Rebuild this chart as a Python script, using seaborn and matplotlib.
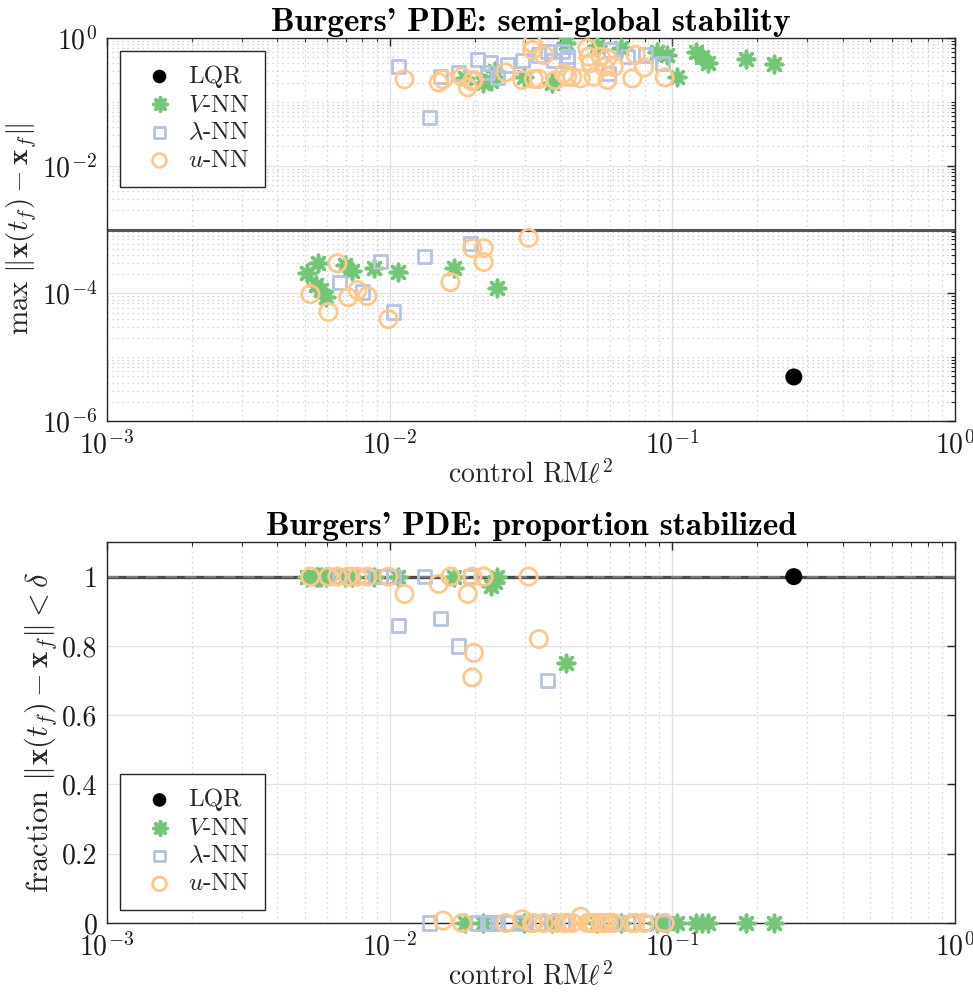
import numpy as np
import pandas as pd
import matplotlib
matplotlib.use("Agg")
import matplotlib.pyplot as plt
import seaborn as sns
from matplotlib.ticker import FixedLocator, NullFormatter, LogFormatterMathtext

# ---------------- data ----------------
lqr_rms = [0.269]
lqr_max = [4.9e-6]
lqr_frac = [1.0]

vnn_rms = [0.0051, 0.00558, 0.0055, 0.00573, 0.00597, 0.00697, 0.00736, 0.00877, 0.01067, 0.01695, 0.0239,
           0.02147, 0.0228, 0.0236, 0.02976, 0.0376, 0.04192, 0.054, 0.0185, 0.06566, 0.08857, 0.09608,
           0.1042, 0.121, 0.1278, 0.1332, 0.182, 0.2293]
vnn_max = [2.1e-4, 3.0e-4, 1.35e-4, 1.12e-4, 8.7e-5, 2.76e-4, 2.2e-4, 2.46e-4, 2.19e-4, 2.46e-4, 1.2e-4,
           0.197, 0.21, 0.30, 0.247, 0.197, 0.826, 0.75, 0.24, 0.69, 0.61, 0.542,
           0.247, 0.61, 0.509, 0.401, 0.464, 0.391]
vnn_frac = [1, 1, 1, 1, 1, 1, 1, 1, 1, 1, 1,
            0, 0.972, 0.986, 0, 0, 0.75, 0, 0, 0, 0, 0,
            0, 0, 0, 0, 0, 0]

lnn_rms = [0.00664, 0.0080, 0.00927, 0.0103, 0.0133, 0.0193,
           0.01076, 0.01386, 0.01512, 0.01751, 0.0204, 0.02274, 0.02606, 0.02944, 0.03361, 0.0361,
           0.0408, 0.0425, 0.0425, 0.06052, 0.06934, 0.0805, 0.09225, 0.05954, 0.0222, 0.0241, 0.0379]
lnn_max = [1.5e-4, 1.05e-4, 3.2e-4, 5.1e-5, 3.8e-4, 6.1e-4,
           0.355, 0.0571, 0.247, 0.283, 0.464, 0.406, 0.377, 0.441, 0.542, 0.61,
           0.61, 0.452, 0.509, 0.648, 0.509, 0.542, 0.401, 0.28, 0.29, 0.24, 0.45]
lnn_frac = [1, 1, 1, 1, 1, 1,
            0.859, 0, 0.88, 0.80, 0, 0, 0, 0, 0, 0.70,
            0, 0, 0, 0, 0, 0, 0, 0, 0, 0, 0]

unn_rms = [0.00524, 0.00607, 0.00653, 0.00714, 0.00769, 0.00834, 0.0099, 0.0164, 0.0196, 0.0215, 0.0215, 0.031,
           0.01128, 0.01491, 0.01546, 0.01805, 0.01889, 0.01984, 0.0196, 0.0257, 0.02944, 0.03195, 0.03195,
           0.03236, 0.03371, 0.03512, 0.03864, 0.04133, 0.04428, 0.0425, 0.04738, 0.05004, 0.05057, 0.05578,
           0.05891, 0.0514, 0.05731, 0.06202, 0.05267, 0.05891, 0.07419, 0.0794, 0.07222, 0.094]
unn_max = [9.7e-5, 5.1e-5, 2.96e-4, 8.7e-5, 1.12e-4, 9.1e-5, 3.95e-5, 1.5e-4, 5.1e-4, 5.1e-4, 3.1e-4, 7.4e-4,
           0.226, 0.202, 0.225, 0.247, 0.169, 0.22, 0.21, 0.29, 0.22, 0.826, 0.648,
           0.228, 0.228, 0.542, 0.22, 0.28, 0.247, 0.247, 0.233, 0.69, 0.509, 0.509,
           0.481, 0.406, 0.355, 0.355, 0.247, 0.22, 0.542, 0.347, 0.233, 0.242]
unn_frac = [1, 1, 1, 1, 1, 1, 1, 1, 1, 1, 1, 1,
            0.95, 0.979, 0.007, 0, 0.95, 0.78, 0.709, 0, 0.011, 0, 0,
            0, 0.82, 0, 0, 0, 0, 0, 0.018, 0, 0, 0,
            0, 0, 0, 0, 0, 0, 0, 0, 0, 0]

series_labels = ["LQR", r"$V$-NN", r"$\lambda$-NN", r"$u$-NN"]
x_ticks = [1e-3, 1e-2, 1e-1, 1e0]
y_ticks_top = [1e-6, 1e-4, 1e-2, 1e0]
y_ticks_bot = [0, 0.2, 0.4, 0.6, 0.8, 1.0]
y_ticklabels_bot = ["0", "0.2", "0.4", "0.6", "0.8", "1"]
titles = ["Burgers' PDE: semi-global stability", "Burgers' PDE: proportion stabilized"]
stable_tol = 1e-3

# ---------------- style ----------------
sns.set_theme(style="white")
plt.rcParams["font.family"] = ["cmr10", "DejaVu Serif"]
plt.rcParams["mathtext.fontset"] = "cm"
plt.rcParams["axes.formatter.use_mathtext"] = True

GREEN = "#74c677"
BLUE = "#b5c2e1"
ORANGE = "#fec78c"
DARK = "#262626"

frames = {
    "lqr": pd.DataFrame({"rms": lqr_rms, "maxdev": lqr_max, "frac": lqr_frac}),
    "vnn": pd.DataFrame({"rms": vnn_rms, "maxdev": vnn_max, "frac": vnn_frac}),
    "lnn": pd.DataFrame({"rms": lnn_rms, "maxdev": lnn_max, "frac": lnn_frac}),
    "unn": pd.DataFrame({"rms": unn_rms, "maxdev": unn_max, "frac": unn_frac}),
}
styles = {
    "lqr": dict(marker="o", s=150, color="black", edgecolor="none", linewidth=0),
    "vnn": dict(marker=(8, 2, 0), s=140, color=GREEN, linewidth=2.6),
    "lnn": dict(marker="s", s=90, facecolor="none", edgecolor=BLUE, linewidth=2.0),
    "unn": dict(marker="o", s=155, facecolor="none", edgecolor=ORANGE, linewidth=2.0),
}
keys = ["lqr", "vnn", "lnn", "unn"]

fig = plt.figure(figsize=(9.73, 9.96), dpi=100)
ax1 = fig.add_axes([0.110, 0.5773, 0.8715, 0.3845])
ax2 = fig.add_axes([0.110, 0.0733, 0.8715, 0.3825])

FS = 20


def minor_log(lo, hi, majors):
    vals = []
    for k in range(lo, hi):
        for m in range(1, 10):
            v = m * 10.0 ** k
            if not any(np.isclose(v, M) for M in majors):
                vals.append(v)
    return vals


def style_axes(ax):
    ax.set_axisbelow(True)
    for sp in ax.spines.values():
        sp.set_visible(True)
        sp.set_color(DARK)
        sp.set_linewidth(1.0)
    ax.set_xscale("log")
    ax.set_xlim(1e-3, 1e0)
    ax.xaxis.set_major_locator(FixedLocator(x_ticks))
    ax.xaxis.set_minor_locator(FixedLocator(minor_log(-3, 0, x_ticks)))
    ax.xaxis.set_major_formatter(LogFormatterMathtext())
    ax.xaxis.set_minor_formatter(NullFormatter())
    ax.tick_params(which="both", direction="in", top=True, right=True, colors=DARK,
                   labelsize=FS, labelcolor="#1a1a1a")
    ax.tick_params(which="major", length=6, width=1.0, pad=7)
    ax.tick_params(which="minor", length=3, width=0.8)
    ax.grid(True, which="major", color="#e2e2e2", linewidth=1.0, linestyle="-")
    ax.set_xlabel(r"control RM$\ell^2$", fontsize=FS, labelpad=0)


# ---------- top panel ----------
style_axes(ax1)
ax1.set_yscale("log")
ax1.set_ylim(1e-6, 1e0)
ax1.yaxis.set_major_locator(FixedLocator(y_ticks_top))
ax1.yaxis.set_minor_locator(FixedLocator(minor_log(-6, 0, y_ticks_top)))
ax1.yaxis.set_major_formatter(LogFormatterMathtext())
ax1.yaxis.set_minor_formatter(NullFormatter())
ax1.grid(True, which="minor", color="#c8c8c8", linewidth=0.9, linestyle=(0, (1, 3)))
ax1.axhline(stable_tol, color="#555555", linewidth=2.2, zorder=2)
for k, lab in zip(keys, series_labels):
    sns.scatterplot(data=frames[k], x="rms", y="maxdev", ax=ax1, label=lab, zorder=3, **styles[k])
ax1.set_ylabel(r"$\max\ \|\mathbf{x}(t_f)-\mathbf{x}_f\|$", fontsize=21, labelpad=2)
ax1.set_title(titles[0], fontfamily="cmb10", fontsize=24, pad=5, color="black")

# ---------- bottom panel ----------
style_axes(ax2)
ax2.set_ylim(0, 1.1)
ax2.yaxis.set_major_locator(FixedLocator(y_ticks_bot))
ax2.set_yticklabels(y_ticklabels_bot)
ax2.grid(True, which="minor", axis="x", color="#c8c8c8", linewidth=0.9, linestyle=(0, (1, 3)))
ax2.axhline(1.0, color="#4a4a4a", linewidth=2.4, zorder=2)
ax2.axhline(1.0, color="#7c7c7c", linewidth=1.4, linestyle=(0, (6, 4)), zorder=2.1)
for k, lab in zip(keys, series_labels):
    sns.scatterplot(data=frames[k], x="rms", y="frac", ax=ax2, label=lab, zorder=3,
                    clip_on=False, **styles[k])
ax2.set_ylabel(r"fraction $\|\mathbf{x}(t_f)-\mathbf{x}_f\|<\delta$", fontsize=22, labelpad=2)
ax2.set_title(titles[1], fontfamily="cmb10", fontsize=24, pad=5, color="black")

for ax, loc in [(ax1, "upper left"), (ax2, "lower left")]:
    leg = ax.legend(loc=loc, frameon=True, fancybox=False, framealpha=1, fontsize=18,
                    markerscale=0.8, borderpad=0.6, handletextpad=0.15, labelspacing=0.22,
                    borderaxespad=0.5, handlelength=2.0)
    leg.get_frame().set_edgecolor(DARK)
    leg.get_frame().set_linewidth(1.0)

fig.savefig("out.png", dpi=100)
